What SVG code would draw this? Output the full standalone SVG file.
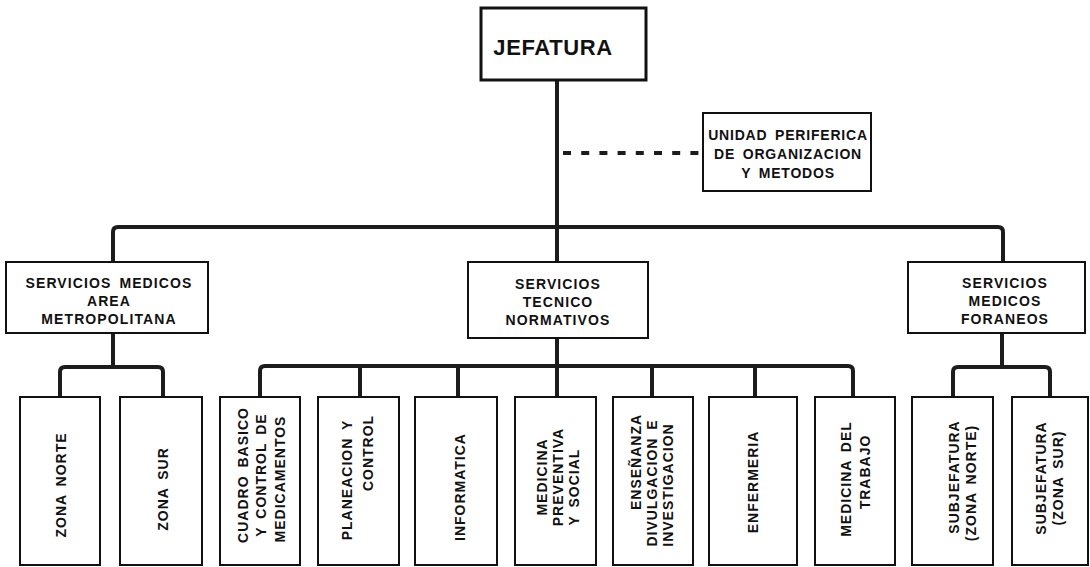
<svg xmlns="http://www.w3.org/2000/svg" width="1090" height="567" viewBox="0 0 1090 567">
  <style>
    .box { fill: #fff; stroke: #111; stroke-width: 2; }
    .head { fill: #fff; stroke: #111; stroke-width: 3; }
    .wire { fill: none; stroke: #1c1c1c; stroke-width: 4; stroke-linejoin: round; }
    .dash { fill: none; stroke: #1c1c1c; stroke-width: 4; stroke-dasharray: 8 10.2; }
    text { font-family: "Liberation Sans", Arial, sans-serif; font-weight: bold; fill: #111; text-anchor: middle; }
    .t1 { font-size: 22px; letter-spacing: 0.6px; }
    .t2 { font-size: 14px; letter-spacing: 1.1px; word-spacing: 3px; }
    .t3 { font-size: 14px; letter-spacing: 0.8px; word-spacing: 3px; }
    .tv { font-size: 14px; letter-spacing: 1px; word-spacing: 3px; }
  </style>
  <rect width="1090" height="567" fill="#fff"/>

  <!-- connectors -->
  <g id="connectors">
    <path class="wire" d="M557 80 V262"/>
    <path class="wire" d="M113 262 V232 Q113 227 118 227 H998 Q1003 227 1003 232 V262"/>
    <path class="dash" d="M563 153 H703"/>
    <!-- metropolitan branch -->
    <path class="wire" d="M113 333 V367"/>
    <path class="wire" d="M60 397 V372 Q60 367 65 367 H158 Q163 367 163 372 V397"/>
    <!-- technical branch -->
    <path class="wire" d="M557 338 V397"/>
    <path class="wire" d="M260 397 V371 Q260 366 265 366 H848 Q853 366 853 371 V397"/>
    <path class="wire" d="M360 366 V397 M458 366 V397 M652 366 V397 M755 366 V397"/>
    <!-- foreign branch -->
    <path class="wire" d="M1002 333 V367"/>
    <path class="wire" d="M953 397 V372 Q953 367 958 367 H1045 Q1050 367 1050 372 V397"/>
  </g>

  <g id="jefatura">
    <rect class="head" x="481" y="8" width="165" height="72"/>
    <text class="t1" x="553" y="55">JEFATURA</text>
  </g>

  <g id="unidad-periferica">
    <rect class="box" x="703" y="113" width="168" height="78"/>
    <text class="t3" x="788" y="140">UNIDAD PERIFERICA</text>
    <text class="t3" x="788" y="159">DE ORGANIZACION</text>
    <text class="t3" x="788" y="178">Y METODOS</text>
  </g>

  <g id="servicios-metropolitana">
    <rect class="box" x="6" y="262" width="202" height="71"/>
    <text class="t2" x="109" y="288">SERVICIOS MEDICOS</text>
    <text class="t2" x="109" y="306">AREA</text>
    <text class="t2" x="109" y="324">METROPOLITANA</text>
  </g>

  <g id="servicios-tecnico">
    <rect class="box" x="468" y="262" width="180" height="76"/>
    <text class="t2" x="558" y="289">SERVICIOS</text>
    <text class="t2" x="558" y="307">TECNICO</text>
    <text class="t2" x="558" y="325">NORMATIVOS</text>
  </g>

  <g id="servicios-foraneos">
    <rect class="box" x="908" y="262" width="177" height="71"/>
    <text class="t2" x="1005" y="288">SERVICIOS</text>
    <text class="t2" x="1005" y="306">MEDICOS</text>
    <text class="t2" x="1005" y="324">FORANEOS</text>
  </g>

  <g id="zona-norte">
    <rect class="box" x="20" y="397" width="80" height="168"/>
    <text class="tv" transform="translate(66 485) rotate(-90)">ZONA NORTE</text>
  </g>

  <g id="zona-sur">
    <rect class="box" x="120" y="397" width="82" height="168"/>
    <text class="tv" transform="translate(168 489) rotate(-90)">ZONA SUR</text>
  </g>

  <g id="cuadro-basico">
    <rect class="box" x="220" y="397" width="80" height="168"/>
    <text class="tv" transform="translate(248 475) rotate(-90)">CUADRO BASICO</text>
    <text class="tv" transform="translate(266 475) rotate(-90)">Y CONTROL DE</text>
    <text class="tv" transform="translate(285 479) rotate(-90)">MEDICAMENTOS</text>
  </g>

  <g id="planeacion">
    <rect class="box" x="318" y="397" width="81" height="168"/>
    <text class="tv" transform="translate(352 480) rotate(-90)">PLANEACION Y</text>
    <text class="tv" transform="translate(373 453) rotate(-90)">CONTROL</text>
  </g>

  <g id="informatica">
    <rect class="box" x="415" y="397" width="82" height="168"/>
    <text class="tv" transform="translate(465 487) rotate(-90)">INFORMATICA</text>
  </g>

  <g id="medicina-preventiva">
    <rect class="box" x="515" y="397" width="81" height="168"/>
    <text class="tv" transform="translate(547 477) rotate(-90)">MEDICINA</text>
    <text class="tv" transform="translate(563 477) rotate(-90)">PREVENTIVA</text>
    <text class="tv" transform="translate(579 487) rotate(-90)">Y SOCIAL</text>
  </g>

  <g id="ensenanza">
    <rect class="box" x="613" y="397" width="80" height="168"/>
    <text class="tv" transform="translate(641 462) rotate(-90)">ENSEÑANZA</text>
    <text class="tv" transform="translate(657 483) rotate(-90)">DIVULGACION E</text>
    <text class="tv" transform="translate(673 485) rotate(-90)">INVESTIGACION</text>
  </g>

  <g id="enfermeria">
    <rect class="box" x="709" y="397" width="88" height="168"/>
    <text class="tv" transform="translate(758 482) rotate(-90)">ENFERMERIA</text>
  </g>

  <g id="medicina-trabajo">
    <rect class="box" x="815" y="397" width="80" height="168"/>
    <text class="tv" transform="translate(851 479) rotate(-90)">MEDICINA DEL</text>
    <text class="tv" transform="translate(870 472) rotate(-90)">TRABAJO</text>
  </g>

  <g id="subjefatura-norte">
    <rect class="box" x="912" y="397" width="81" height="168"/>
    <text class="tv" transform="translate(959 477) rotate(-90)">SUBJEFATURA</text>
    <text class="tv" transform="translate(976 483) rotate(-90)">(ZONA NORTE)</text>
  </g>

  <g id="subjefatura-sur">
    <rect class="box" x="1012" y="397" width="76" height="168"/>
    <text class="tv" transform="translate(1046 478) rotate(-90)">SUBJEFATURA</text>
    <text class="tv" transform="translate(1063 478) rotate(-90)">(ZONA SUR)</text>
  </g>
</svg>
